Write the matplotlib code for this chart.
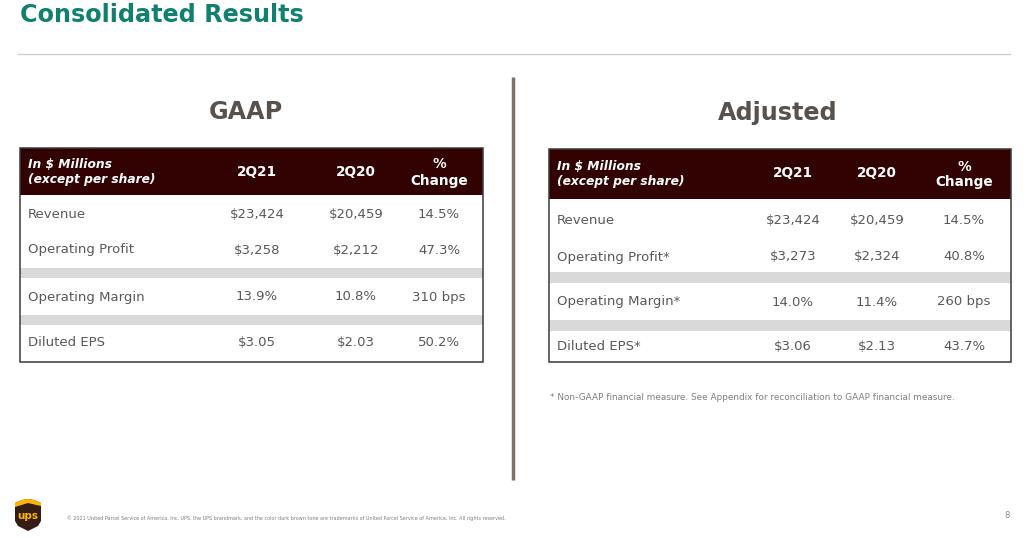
import matplotlib
matplotlib.use("Agg")
import matplotlib.pyplot as plt
from matplotlib.patches import Rectangle, Polygon

# ---------------- data ----------------
title = "Consolidated Results"
col_headers = ["2Q21", "2Q20", "%\nChange"]
unit_label = "In $ Millions\n(except per share)"

gaap_rows = ["Revenue", "Operating Profit", "Operating Margin", "Diluted EPS"]
gaap_2q21 = ["$23,424", "$3,258", "13.9%", "$3.05"]
gaap_2q20 = ["$20,459", "$2,212", "10.8%", "$2.03"]
gaap_chg = ["14.5%", "47.3%", "310 bps", "50.2%"]

adj_rows = ["Revenue", "Operating Profit*", "Operating Margin*", "Diluted EPS*"]
adj_2q21 = ["$23,424", "$3,273", "14.0%", "$3.06"]
adj_2q20 = ["$20,459", "$2,324", "11.4%", "$2.13"]
adj_chg = ["14.5%", "40.8%", "260 bps", "43.7%"]

footnote = "* Non-GAAP financial measure. See Appendix for reconciliation to GAAP financial measure."
copyright_txt = ("\u00a9 2021 United Parcel Service of America, Inc. UPS, the UPS brandmark, and the color dark "
                 "brown tone are trademarks of United Parcel Service of America, Inc. All rights reserved.")
page_no = "8"

# ---------------- style ----------------
W, H = 1031, 538
TEAL = "#12806f"
SUB = "#59514b"
TXT = "#595959"
HDR = "#320202"
BAND = "#d9d9d9"

fig = plt.figure(figsize=(W / 100, H / 100), dpi=100)
ax = fig.add_axes([0, 0, 1, 1])
ax.set_xlim(0, W)
ax.set_ylim(H, 0)
ax.axis("off")

ax.text(20, 15, title, fontsize=17.2, fontweight="bold", color=TEAL, va="center", ha="left")
ax.plot([18, 1010], [54, 54], color="#cfcfcf", lw=1)
ax.plot([513, 513], [77, 480], color="#7d726b", lw=2.5, solid_capstyle="butt")


def draw_table(x0, x1, top, hdr_bot, bands, bottom, label_x, col_x, row_y,
               hdr_lines, hdr_col_y, pct_y, rows, c1, c2, c3, heading, heading_x, heading_y):
    ax.text(heading_x, heading_y, heading, fontsize=17.2, fontweight="bold", color=SUB,
            ha="center", va="center")
    ax.add_patch(Rectangle((x0, top), x1 - x0, hdr_bot - top, facecolor=HDR, edgecolor="none"))
    for b0, b1 in bands:
        ax.add_patch(Rectangle((x0, b0), x1 - x0, b1 - b0, facecolor=BAND, edgecolor="none"))
    ax.add_patch(Rectangle((x0, top), x1 - x0, bottom - top, facecolor="none",
                           edgecolor="#3a3a3a", lw=1.1))
    l1, l2 = unit_label.split("\n")
    ax.text(label_x, hdr_lines[0], l1, fontsize=8.8, fontweight="bold", style="italic",
            color="white", ha="left", va="center")
    ax.text(label_x, hdr_lines[1], l2, fontsize=8.8, fontweight="bold", style="italic",
            color="white", ha="left", va="center")
    for i, h in enumerate(col_headers):
        if "\n" in h:
            a, b = h.split("\n")
            ax.text(col_x[i], pct_y[0], a, fontsize=9.8, fontweight="bold", color="white",
                    ha="center", va="center")
            ax.text(col_x[i], pct_y[1], b, fontsize=9.8, fontweight="bold", color="white",
                    ha="center", va="center")
        else:
            ax.text(col_x[i], hdr_col_y, h, fontsize=9.8, fontweight="bold", color="white",
                    ha="center", va="center")
    for r, y in enumerate(row_y):
        ax.text(label_x, y, rows[r], fontsize=9.5, color=TXT, ha="left", va="center")
        for vals, cx in zip((c1, c2, c3), col_x):
            ax.text(cx, y, vals[r], fontsize=9.5, color=TXT, ha="center", va="center")


draw_table(20, 483, 148, 195, [(268, 278), (315, 325)], 362, 28, [257, 356, 439],
           [214, 250, 297, 343], [165, 179], 172, [164, 181],
           gaap_rows, gaap_2q21, gaap_2q20, gaap_chg, "GAAP", 246, 112)

draw_table(549, 1011, 149, 199, [(272, 283), (320, 331)], 362, 557, [793, 877, 964],
           [220, 257, 302, 346], [167, 181], 173, [167, 182],
           adj_rows, adj_2q21, adj_2q20, adj_chg, "Adjusted", 778, 113)

ax.text(550, 398, footnote, fontsize=6.4, color="#808080", ha="left", va="center")

# UPS shield logo
shield = Polygon([(15, 503), (22, 500), (28, 499), (34, 500), (41, 503), (41, 521),
                  (38, 526), (28, 531), (18, 526), (15, 521)], closed=True,
                 facecolor="#351c15", edgecolor="none")
ax.add_patch(shield)
gold = Polygon([(15, 503), (22, 500), (28, 499), (34, 500), (41, 503), (41, 506),
                (28, 503), (15, 507)], closed=True, facecolor="#ffb500", edgecolor="none")
ax.add_patch(gold)
ax.text(28, 516, "ups", fontsize=7.5, fontweight="bold", color="#ffb500", ha="center", va="center")

ax.text(67, 518, copyright_txt, fontsize=3.55, color="#7f7f7f", ha="left", va="center")
ax.text(1007, 515, page_no, fontsize=6, color="#8c8c8c", ha="center", va="center")

fig.savefig("out.png", dpi=100, facecolor="white")
